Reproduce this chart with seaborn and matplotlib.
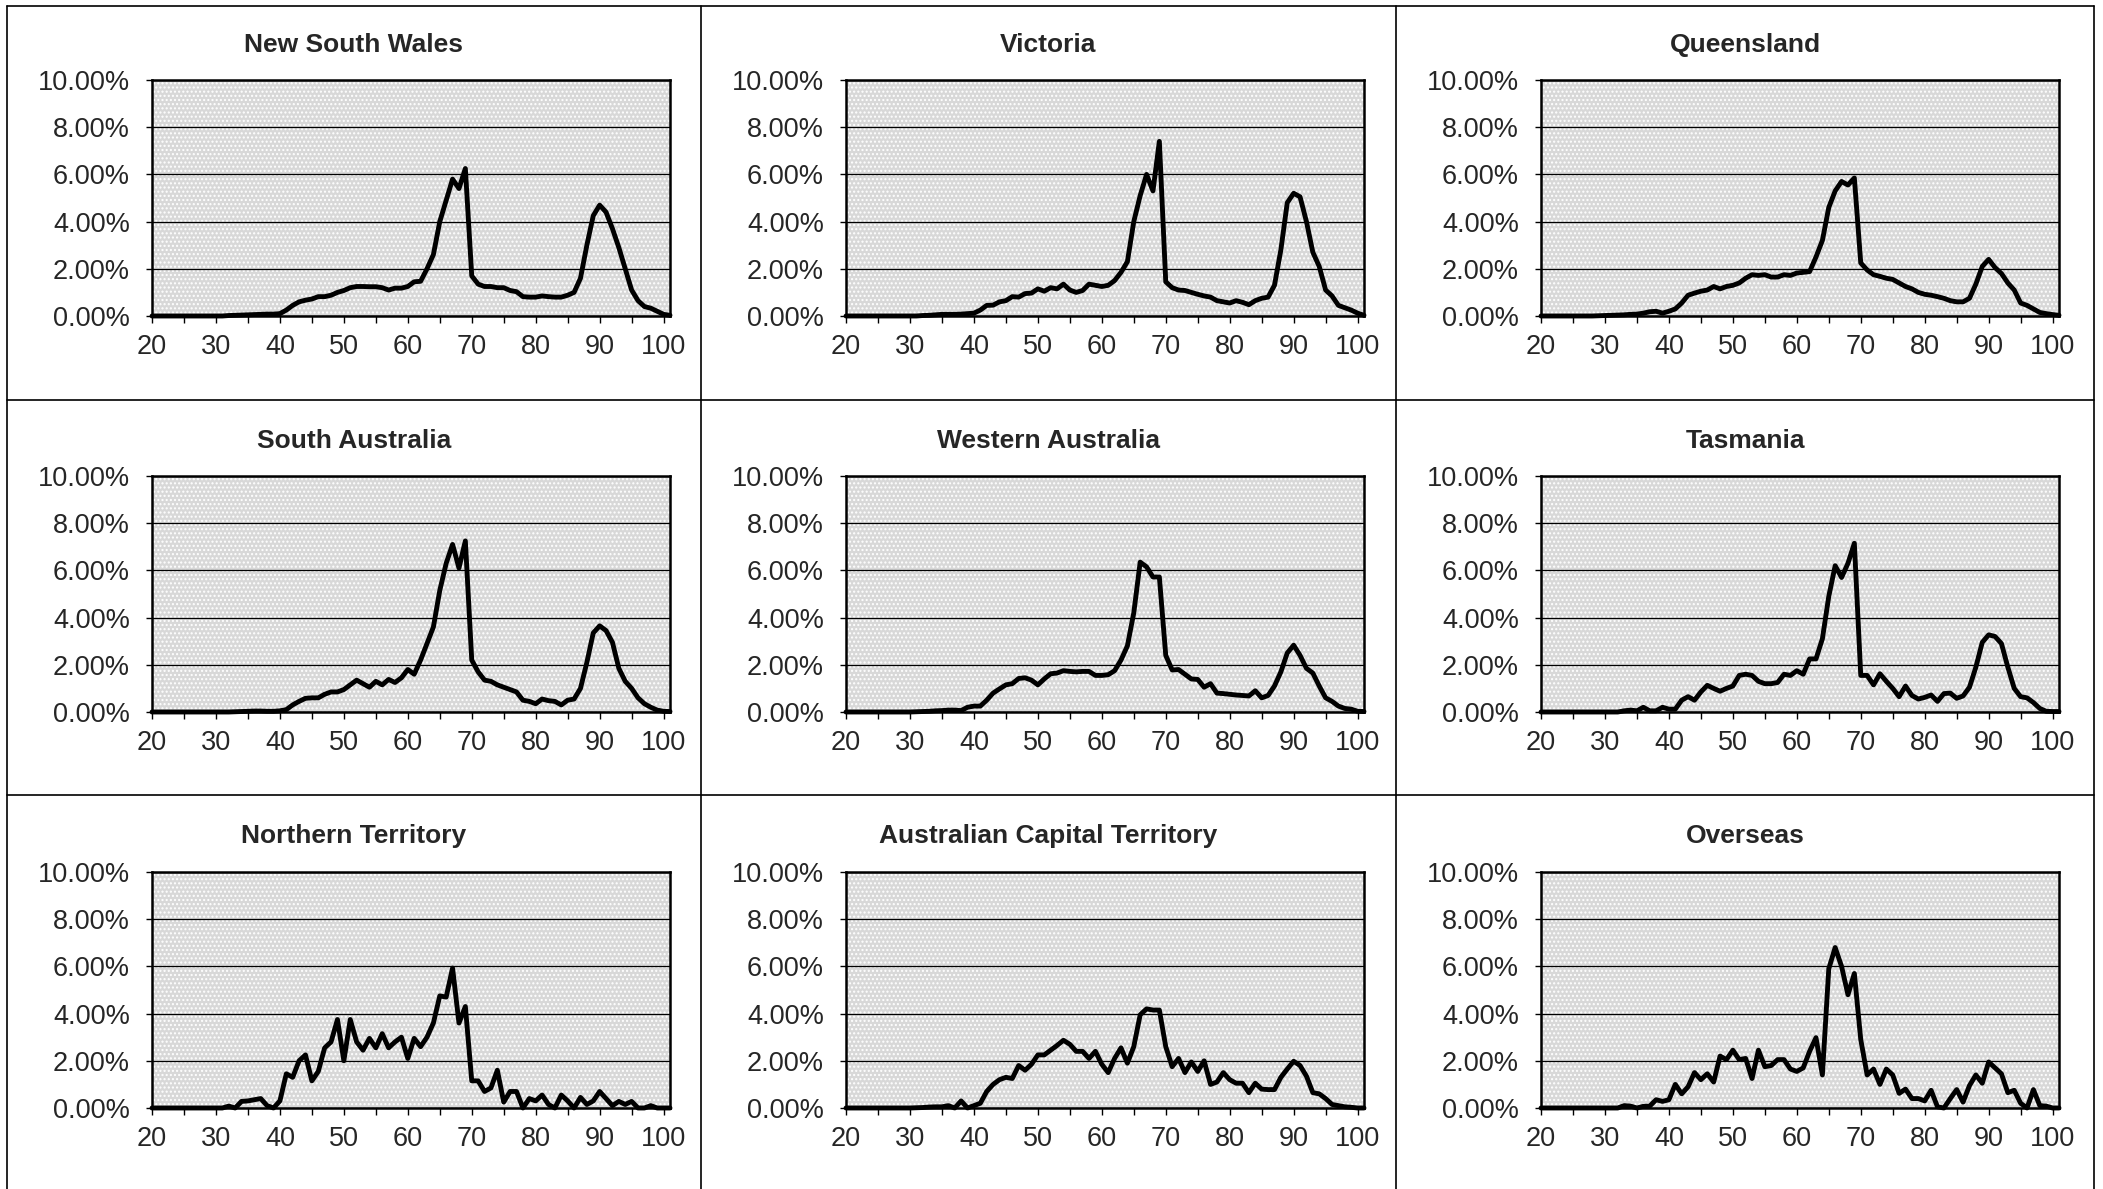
import numpy as np
import pandas as pd
import seaborn as sns
import matplotlib.pyplot as plt
from matplotlib.patches import Rectangle
from matplotlib.lines import Line2D
from matplotlib.ticker import FuncFormatter, MultipleLocator

sns.set_style('white')
plt.rcParams['font.family'] = ['Liberation Sans', 'DejaVu Sans']
plt.rcParams['hatch.color'] = '#969696'
plt.rcParams['hatch.linewidth'] = 1.0

ages = list(range(20, 102))
titles = ['New South Wales', 'Victoria', 'Queensland',
          'South Australia', 'Western Australia', 'Tasmania',
          'Northern Territory', 'Australian Capital Territory', 'Overseas']

# share of each age, percent, ages 20..101
nsw = [0, 0, 0, 0, 0, 0, 0, 0, 0, 0,
       0, 0, 0.02, 0.03, 0.04, 0.05, 0.06, 0.07, 0.08, 0.08,
       0.10, 0.25, 0.45, 0.60, 0.67, 0.72, 0.82, 0.82, 0.88, 1.00,
       1.08, 1.20, 1.25, 1.25, 1.24, 1.24, 1.20, 1.10, 1.18, 1.18,
       1.25, 1.45, 1.47, 2.00, 2.60, 4.00, 4.90, 5.80, 5.40, 6.25,
       1.70, 1.35, 1.25, 1.25, 1.20, 1.20, 1.08, 1.03, 0.82, 0.80,
       0.80, 0.85, 0.82, 0.80, 0.80, 0.88, 1.00, 1.60, 3.00, 4.25,
       4.70, 4.40, 3.70, 2.90, 2.00, 1.10, 0.65, 0.40, 0.33, 0.20,
       0.07, 0.03]
vic = [0, 0, 0, 0, 0, 0, 0, 0, 0, 0,
       0, 0, 0.02, 0.03, 0.05, 0.07, 0.07, 0.07, 0.08, 0.10,
       0.12, 0.25, 0.45, 0.46, 0.60, 0.65, 0.82, 0.80, 0.95, 0.97,
       1.15, 1.05, 1.20, 1.15, 1.35, 1.10, 1.00, 1.08, 1.35, 1.30,
       1.25, 1.30, 1.50, 1.85, 2.30, 4.00, 5.10, 6.00, 5.30, 7.40,
       1.45, 1.20, 1.10, 1.08, 1.00, 0.92, 0.85, 0.80, 0.65, 0.60,
       0.55, 0.65, 0.58, 0.48, 0.65, 0.75, 0.80, 1.30, 2.80, 4.80,
       5.20, 5.05, 4.00, 2.70, 2.10, 1.10, 0.85, 0.45, 0.35, 0.25,
       0.12, 0.03]
qld = [0, 0, 0, 0, 0, 0, 0, 0, 0, 0.01,
       0.02, 0.03, 0.04, 0.05, 0.07, 0.08, 0.12, 0.18, 0.20, 0.12,
       0.20, 0.30, 0.55, 0.88, 0.97, 1.05, 1.10, 1.25, 1.15, 1.25,
       1.30, 1.40, 1.60, 1.75, 1.72, 1.75, 1.65, 1.65, 1.75, 1.72,
       1.82, 1.85, 1.88, 2.50, 3.20, 4.60, 5.30, 5.70, 5.55, 5.85,
       2.25, 1.95, 1.75, 1.68, 1.60, 1.55, 1.40, 1.25, 1.15, 1.00,
       0.92, 0.88, 0.82, 0.75, 0.65, 0.60, 0.60, 0.75, 1.35, 2.10,
       2.40, 2.05, 1.80, 1.40, 1.10, 0.55, 0.45, 0.30, 0.15, 0.10,
       0.06, 0.03]
sa = [0, 0, 0, 0, 0, 0, 0, 0, 0, 0,
      0, 0, 0, 0.01, 0.02, 0.03, 0.04, 0.04, 0.03, 0.03,
      0.05, 0.10, 0.30, 0.45, 0.58, 0.60, 0.60, 0.75, 0.85, 0.85,
      0.95, 1.15, 1.35, 1.20, 1.05, 1.30, 1.15, 1.38, 1.25, 1.45,
      1.80, 1.60, 2.20, 2.90, 3.60, 5.15, 6.30, 7.10, 6.10, 7.25,
      2.20, 1.70, 1.35, 1.30, 1.15, 1.05, 0.95, 0.85, 0.50, 0.45,
      0.35, 0.55, 0.48, 0.45, 0.30, 0.50, 0.55, 1.00, 2.10, 3.35,
      3.65, 3.45, 2.95, 1.85, 1.30, 1.00, 0.60, 0.35, 0.20, 0.08,
      0.03, 0.02]
wa = [0, 0, 0, 0, 0, 0, 0, 0, 0, 0,
      0, 0.01, 0.02, 0.03, 0.05, 0.06, 0.08, 0.08, 0.06, 0.20,
      0.25, 0.25, 0.50, 0.80, 0.98, 1.15, 1.20, 1.42, 1.45, 1.35,
      1.15, 1.40, 1.62, 1.65, 1.75, 1.72, 1.70, 1.72, 1.72, 1.55,
      1.55, 1.58, 1.75, 2.20, 2.80, 4.20, 6.35, 6.15, 5.72, 5.72,
      2.40, 1.78, 1.80, 1.60, 1.40, 1.38, 1.05, 1.20, 0.80, 0.78,
      0.75, 0.72, 0.70, 0.68, 0.90, 0.60, 0.70, 1.10, 1.70, 2.50,
      2.83, 2.40, 1.85, 1.65, 1.10, 0.60, 0.45, 0.25, 0.15, 0.12,
      0.03, 0.02]
tas = [0, 0, 0, 0, 0, 0, 0, 0, 0, 0,
       0, 0, 0, 0.05, 0.08, 0.05, 0.20, 0.05, 0.05, 0.20,
       0.12, 0.12, 0.50, 0.65, 0.50, 0.85, 1.13, 1.00, 0.88, 1.00,
       1.10, 1.55, 1.60, 1.55, 1.30, 1.20, 1.20, 1.25, 1.60, 1.55,
       1.75, 1.60, 2.25, 2.25, 3.10, 4.90, 6.20, 5.70, 6.30, 7.15,
       1.55, 1.55, 1.15, 1.62, 1.30, 1.00, 0.65, 1.10, 0.70, 0.55,
       0.62, 0.72, 0.45, 0.78, 0.80, 0.58, 0.68, 1.05, 1.90, 2.95,
       3.27, 3.20, 2.90, 1.90, 1.00, 0.65, 0.60, 0.40, 0.15, 0.03,
       0.02, 0.02]
nt = [0, 0, 0, 0, 0, 0, 0, 0, 0, 0,
      0, 0, 0.08, 0.00, 0.28, 0.30, 0.35, 0.40, 0.10, 0.00,
      0.30, 1.45, 1.30, 2.00, 2.25, 1.15, 1.55, 2.55, 2.80, 3.75,
      2.00, 3.75, 2.80, 2.45, 2.95, 2.55, 3.15, 2.55, 2.80, 3.00,
      2.10, 2.95, 2.60, 3.00, 3.60, 4.75, 4.70, 5.93, 3.60, 4.30,
      1.15, 1.15, 0.70, 0.85, 1.60, 0.25, 0.70, 0.70, 0.00, 0.40,
      0.30, 0.55, 0.15, 0.00, 0.55, 0.30, 0.00, 0.45, 0.15, 0.30,
      0.70, 0.40, 0.10, 0.28, 0.15, 0.28, 0.00, 0.00, 0.10, 0.00,
      0.00, 0.00]
act = [0, 0, 0, 0, 0, 0, 0, 0, 0, 0,
       0, 0.01, 0.02, 0.04, 0.05, 0.05, 0.10, 0.00, 0.30, 0.00,
       0.10, 0.20, 0.70, 1.00, 1.20, 1.30, 1.25, 1.80, 1.60, 1.85,
       2.25, 2.25, 2.45, 2.65, 2.87, 2.70, 2.40, 2.40, 2.10, 2.40,
       1.85, 1.50, 2.10, 2.55, 1.90, 2.60, 3.95, 4.20, 4.15, 4.15,
       2.60, 1.75, 2.10, 1.50, 1.95, 1.55, 2.00, 1.00, 1.10, 1.50,
       1.20, 1.05, 1.05, 0.65, 1.05, 0.80, 0.78, 0.78, 1.30, 1.65,
       1.98, 1.80, 1.35, 0.65, 0.60, 0.40, 0.15, 0.10, 0.05, 0.03,
       0.00, 0.00]
ovs = [0, 0, 0, 0, 0, 0, 0, 0, 0, 0,
       0, 0, 0, 0.10, 0.08, 0.00, 0.07, 0.08, 0.35, 0.28,
       0.35, 1.00, 0.60, 0.90, 1.50, 1.20, 1.45, 1.10, 2.20, 2.05,
       2.45, 2.05, 2.10, 1.25, 2.45, 1.75, 1.80, 2.05, 2.05, 1.65,
       1.55, 1.70, 2.40, 2.98, 1.40, 5.90, 6.80, 6.00, 4.80, 5.70,
       2.90, 1.40, 1.65, 1.00, 1.65, 1.40, 0.62, 0.80, 0.40, 0.40,
       0.30, 0.75, 0.05, 0.00, 0.40, 0.78, 0.25, 0.95, 1.40, 1.05,
       1.95, 1.70, 1.45, 0.65, 0.75, 0.20, 0.00, 0.78, 0.10, 0.08,
       0.00, 0.00]

series = [nsw, vic, qld, sa, wa, tas, nt, act, ovs]

W, H = 2103, 1189
figure = plt.figure(figsize=(W / 100, H / 100), dpi=100)

# pixel layout of the 3x3 grid
col_left = [152, 846, 1541]
plot_w = 518
row_top = [80, 476, 872]
plot_h = 236
panel_x = [7, 701, 1396, 2094]
panel_y = [6, 400, 795, 1189]
title_y = [45, 441, 836]

for i, (title, vals) in enumerate(zip(titles, series)):
    r, c = divmod(i, 3)
    ax = figure.add_axes([col_left[c] / W, 1 - (row_top[r] + plot_h) / H,
                          plot_w / W, plot_h / H])
    ax.set_facecolor('white')
    ax.add_patch(Rectangle((0, 0), 1, 1, transform=ax.transAxes,
                           facecolor='#d8d8d8', hatch='....', lw=0, zorder=0))
    df = pd.DataFrame({'age': ages, 'share': vals})
    sns.lineplot(data=df, x='age', y='share', ax=ax, color='black',
                 linewidth=3.5, clip_on=False, zorder=3)
    ax.set_xlim(20, 101)
    ax.set_ylim(0, 10)
    ax.yaxis.set_major_locator(MultipleLocator(2))
    ax.yaxis.set_major_formatter(FuncFormatter(lambda v, p: f'{v:.2f}%'))
    ax.xaxis.set_major_locator(MultipleLocator(5))
    ax.xaxis.set_major_formatter(FuncFormatter(
        lambda v, p: f'{int(v)}' if int(v) % 10 == 0 else ''))
    ax.grid(axis='y', color='black', linewidth=0.9, zorder=1)
    ax.set_axisbelow(True)
    for s in ax.spines.values():
        s.set_visible(True)
        s.set_color('black')
        s.set_linewidth(1.8)
    ax.tick_params(axis='x', direction='out', length=5, width=1, color='black',
                   labelsize=19.5, pad=8, bottom=True)
    ax.tick_params(axis='y', direction='out', length=4, width=1, color='black',
                   labelsize=19.5, pad=12, left=True)
    ax.set_xlabel('')
    ax.set_ylabel('')
    cx = (panel_x[c] + panel_x[c + 1]) / 2
    figure.text(cx / W, 1 - title_y[r] / H, title, ha='center', va='center',
                fontsize=19, fontweight='bold')

# panel frame lines
for x in panel_x:
    figure.add_artist(Line2D([x / W, x / W], [1 - panel_y[0] / H, 0],
                             color='black', lw=1.2))
for y in panel_y[:3]:
    figure.add_artist(Line2D([panel_x[0] / W, panel_x[3] / W], [1 - y / H, 1 - y / H],
                             color='black', lw=1.2))

figure.savefig('out.png', dpi=100)
